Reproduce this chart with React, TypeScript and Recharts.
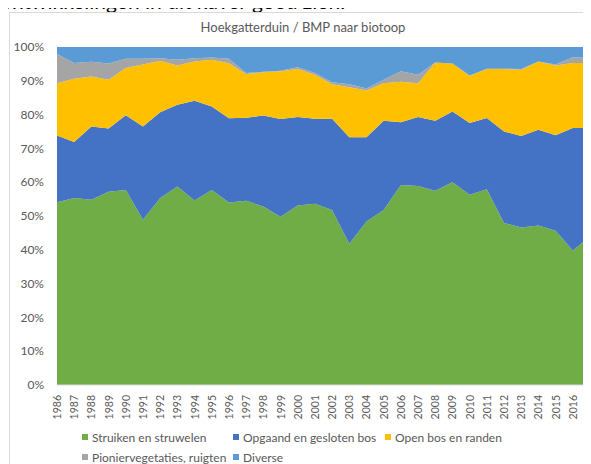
import { AreaChart, Area, XAxis, YAxis } from 'recharts';

const years = ['1986','1987','1988','1989','1990','1991','1992','1993','1994','1995','1996','1997','1998','1999','2000','2001','2002','2003','2004','2005','2006','2007','2008','2009','2010','2011','2012','2013','2014','2015','2016','2017'];
const struiken = [54.1,55.3,54.8,57.2,57.7,48.9,55.3,58.7,54.6,57.7,54.0,54.5,52.8,49.8,53.1,53.6,51.8,41.8,48.4,51.8,59.2,58.9,57.5,60.0,56.3,57.9,47.9,46.6,47.2,45.6,39.8,43.9];
const opgaand = [19.7,16.6,21.7,18.7,22.1,27.6,25.4,24.2,29.5,24.7,24.9,24.6,26.9,28.9,26.2,25.2,27.0,31.5,24.9,26.4,18.5,20.4,20.7,20.9,21.2,21.1,27.1,27.1,28.3,28.3,36.2,32.1];
const openBos = [15.5,18.7,14.8,14.4,14.0,18.3,15.2,11.6,11.6,13.8,16.3,12.9,12.8,14.1,14.2,13.0,10.2,14.8,13.8,11.1,12.0,10.0,17.2,14.2,14.0,14.5,18.5,19.6,20.2,20.6,19.3,19.3];
const pionier = [8.6,4.7,4.3,4.8,2.7,1.7,0.8,1.7,1.0,0.7,1.3,0.3,0.2,0.2,0.5,0.5,0.6,0.9,0.6,1.0,3.1,2.5,0,0,0.1,0.1,0.1,0.2,0,0.3,1.7,1.4];
const diverse = [2.1,4.7,4.4,4.9,3.5,3.5,3.3,3.8,3.3,3.1,3.5,7.7,7.3,7.0,6.0,7.7,10.4,11.0,12.3,9.7,7.2,8.2,4.6,4.9,8.4,6.4,6.4,6.5,4.3,5.2,3.0,3.3];
const yTicks = [0, 0.1, 0.2, 0.3, 0.4, 0.5, 0.6, 0.7, 0.8, 0.9, 1];

const series = [
  { key: 'struiken', name: 'Struiken en struwelen', color: '#70AD47' },
  { key: 'opgaand', name: 'Opgaand en gesloten bos', color: '#4472C4' },
  { key: 'openBos', name: 'Open bos en randen', color: '#FFC000' },
  { key: 'pionier', name: 'Pioniervegetaties, ruigten', color: '#A5A5A5' },
  { key: 'diverse', name: 'Diverse', color: '#5B9BD5' },
];

const data = years.map((year, i) => ({
  year,
  struiken: struiken[i],
  opgaand: opgaand[i],
  openBos: openBos[i],
  pionier: pionier[i],
  diverse: diverse[i],
}));

const font = 'Lato, "Open Sans", sans-serif';
const grey = '#595959';

// legend spots as in the original sheet
const legendPos = [
  { left: 82, top: 437 },
  { left: 233, top: 437 },
  { left: 385, top: 437 },
  { left: 82, top: 457 },
  { left: 233, top: 457 },
];

function YearTick(props: any) {
  const { x, y, payload } = props;
  return (
    <text
      x={x}
      y={y + 8}
      transform={`rotate(-90, ${x}, ${y + 8})`}
      textAnchor="end"
      dominantBaseline="central"
      fontSize={10.5}
      fontFamily={font}
      fill={grey}
    >
      {payload.value}
    </text>
  );
}

export default function App() {
  return (
    <div style={{ position: 'relative', margin: '-8px 0 0 -8px', width: 591, height: 464, overflow: 'hidden', background: '#fff' }}>
      <div style={{ position: 'absolute', left: 0, top: -12, fontFamily: font, fontSize: 21, lineHeight: '25px', color: '#000', whiteSpace: 'nowrap' }}>
        ontwikkelingen in dit kaver goed zien.
      </div>
      <div style={{ position: 'absolute', left: 9, top: 12, width: 640, height: 500, border: '1px solid #d9d9d9', background: '#fff' }}>
        <div style={{ position: 'absolute', left: 143, top: 6, width: 300, textAlign: 'center', fontFamily: font, fontSize: 13, color: grey, whiteSpace: 'nowrap' }}>
          Hoekgatterduin / BMP naar biotoop
        </div>
        <div style={{ position: 'absolute', left: 0, top: 0 }}>
          <AreaChart width={590} height={412} data={data} stackOffset="expand" margin={{ top: 34, right: 10, left: 0, bottom: 0 }}>
            <XAxis dataKey="year" interval={0} height={40} tickSize={0} tickLine={false} axisLine={{ stroke: '#d9d9d9' }} tick={<YearTick />} />
            <YAxis
              width={47}
              domain={[0, 1]}
              ticks={yTicks}
              tickSize={0}
              tickMargin={13}
              tickLine={false}
              axisLine={false}
              tick={{ fontSize: 12, fill: grey, fontFamily: font }}
              tickFormatter={(v: number) => `${Math.round(v * 100)}%`}
            />
            {series.map((s) => (
              <Area
                key={s.key}
                type="linear"
                dataKey={s.key}
                name={s.name}
                stackId="1"
                stroke="none"
                fill={s.color}
                fillOpacity={1}
                isAnimationActive={false}
              />
            ))}
          </AreaChart>
        </div>
      </div>
      {series.map((s, i) => (
        <div key={s.key} style={{ position: 'absolute', left: legendPos[i].left, top: legendPos[i].top - 8, height: 16, display: 'flex', alignItems: 'center', fontFamily: font, fontSize: 12, color: grey, whiteSpace: 'nowrap' }}>
          <span style={{ display: 'inline-block', width: 6, height: 6, background: s.color, marginRight: 4 }} />
          {s.name}
        </div>
      ))}
    </div>
  );
}
